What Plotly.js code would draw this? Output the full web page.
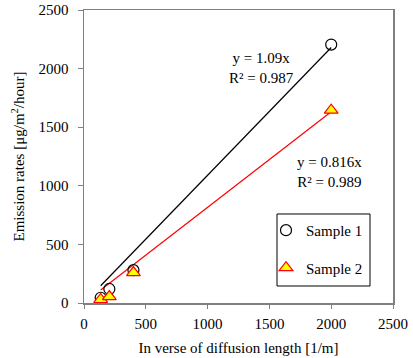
<!DOCTYPE html>
<html><head><meta charset="utf-8">
<script src="https://cdn.plot.ly/plotly-3.0.1.min.js"></script>
<style>html,body{margin:0;padding:0;background:#fff}#c{width:413px;height:358px}</style>
</head><body><div id="c"></div>
<script>
const xVals = [135, 205, 400, 2000];
const sample1 = [45, 120, 280, 2205];
const sample2 = [30, 55, 260, 1645];
const slope1 = 1.09, r2_1 = 0.987;
const slope2 = 0.816, r2_2 = 0.989;
const xTicks = [0, 500, 1000, 1500, 2000, 2500];
const yTicks = [0, 500, 1000, 1500, 2000, 2500];

const xmin = Math.min(...xVals), xmax = Math.max(...xVals);
const font = {family: 'Liberation Serif, Times New Roman, serif', size: 15, color: '#000'};

const traces = [
  {x: [xmin, xmax], y: [slope1*xmin, slope1*xmax], mode: 'lines', line: {color: '#000', width: 1.2}, showlegend: false, hoverinfo: 'skip'},
  {x: [xmin, xmax], y: [slope2*xmin, slope2*xmax], mode: 'lines', line: {color: '#ff0000', width: 1.2}, showlegend: false, hoverinfo: 'skip'},
  {x: xVals, y: sample1, mode: 'markers', name: 'Sample 1', legendgroup: 'a',
   marker: {symbol: 'circle', size: 11, color: 'rgba(255,255,255,0)', line: {color: '#000', width: 1.2}}},
  {x: xVals, y: sample2, mode: 'markers', name: 'Sample 2', legendgroup: 'b',
   marker: {symbol: 'triangle-up', size: 12, color: '#ffff00', line: {color: '#ff0000', width: 1.2}}}
];

const layout = {
  width: 413, height: 358,
  margin: {l: 84, r: 20, t: 10, b: 55},
  paper_bgcolor: '#fff', plot_bgcolor: '#fff',
  font: font,
  showlegend: true,
  legend: {x: 0.589, y: 0.304, xanchor: 'left', yanchor: 'top', borderwidth: 0,
           bgcolor: 'rgba(0,0,0,0)', font: font, tracegroupgap: 15, itemwidth: 30},
  shapes: [
    {type: 'rect', xref: 'paper', yref: 'paper', x0: 0.6246, x1: 0.9256, y0: 0.058, y1: 0.3038,
     line: {color: '#000', width: 1}, fillcolor: '#fff', layer: 'below'}
  ],
  xaxis: {range: [0, 2500], tickvals: xTicks, ticktext: xTicks.map(String), showgrid: false, zeroline: false,
          showline: true, linecolor: '#808080', linewidth: 1.5, mirror: true,
          ticks: 'outside', ticklen: 4, tickcolor: '#808080', tickfont: font, ticklabelstandoff: 2,
          title: {text: 'In verse of diffusion length [1/m]', font: font, standoff: 12}},
  yaxis: {range: [0, 2500], tickvals: yTicks, ticktext: yTicks.map(String), showgrid: false, zeroline: false,
          showline: true, linecolor: '#808080', linewidth: 1.5, mirror: true,
          ticks: 'outside', ticklen: 5, tickcolor: '#808080', tickfont: font, ticklabelstandoff: 6,
          title: {text: 'Emission rates [μg/m<sup>2</sup>/hour]', font: font, standoff: 10}},
  annotations: [
    {x: 1440, y: 2009, xref: 'x', yref: 'y', text: 'y = ' + slope1 + 'x<br>R² = ' + r2_1, showarrow: false, font: font, align: 'center'},
    {x: 1990, y: 1118, xref: 'x', yref: 'y', text: 'y = ' + slope2 + 'x<br>R² = ' + r2_2, showarrow: false, font: font, align: 'center'}
  ]
};
Plotly.newPlot('c', traces, layout, {displayModeBar: false, staticPlot: true});
</script></body></html>
